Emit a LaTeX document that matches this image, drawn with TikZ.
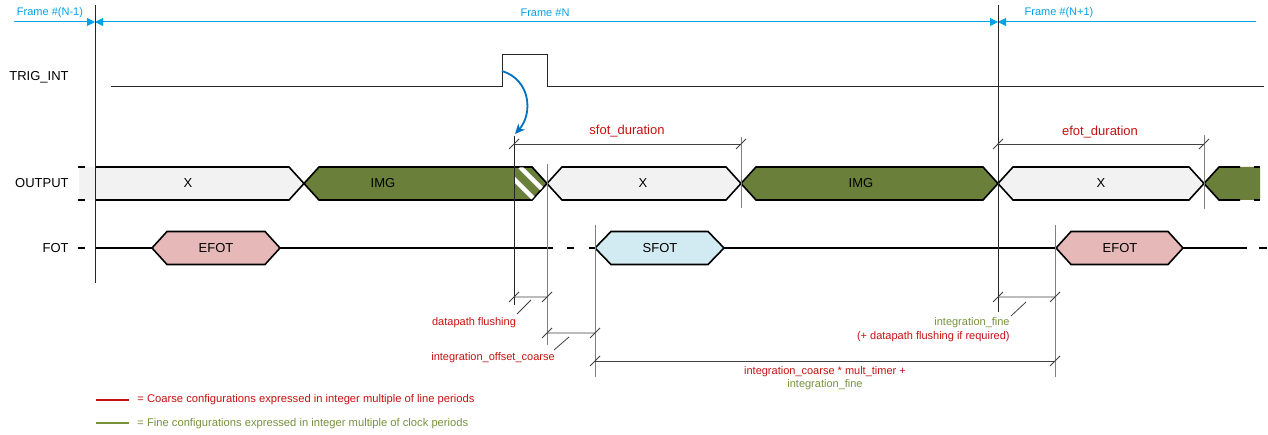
\documentclass[tikz,border=0pt]{standalone}
\usepackage{fontspec}
\setmainfont{Liberation Sans}
\usetikzlibrary{arrows.meta,calc}
\definecolor{framecol}{RGB}{0,162,232}
\definecolor{trigcol}{RGB}{0,112,192}
\definecolor{coarsecol}{RGB}{200,16,16}
\definecolor{finecol}{RGB}{118,146,60}
\definecolor{imgcol}{RGB}{106,128,58}
\definecolor{xcol}{RGB}{242,242,242}
\definecolor{efotcol}{RGB}{230,185,184}
\definecolor{sfotcol}{RGB}{210,234,241}
\tikzset{
  >=Stealth,
  every picture/.append style={line width=0.8pt},
  every node/.append style={font=\fontsize{11}{13}\selectfont, inner sep=0pt},
}
\tikzset{
  siglabel/.style={font=\fontsize{13}{15}\selectfont, anchor=east},
  framearr/.style={draw=framecol, line width=1pt, -{Triangle[length=8pt,width=8pt]}},
  bus/.style={draw=black, line width=1.6pt, line join=miter},
  marker/.style={draw=black!85, line width=1pt},
  softmarker/.style={draw=black!50, line width=1pt},
  dimline/.style={draw=black!75, line width=0.8pt},
  dimtick/.pic={\draw[dimline] (-5,5) -- (5,-5);}
}

\begin{document}
\begin{tikzpicture}[x=1pt, y=-1pt,
  coarse/.style={text=coarsecol},
  fine/.style={text=finecol},
  buslabel/.style={font=\fontsize{13}{15}\selectfont},
  legtext/.style={anchor=west, font=\fontsize{11.2}{13}\selectfont}
]
\useasboundingbox (0,0) rectangle (1268,435);

% Frame arrows
\coordinate (fl) at (14,22);
\coordinate (fb1) at (95,22);
\coordinate (fb2) at (998,22);
\coordinate (fr) at (1256,22);
\draw[framearr] (fl) -- (fb1);
\draw[framearr, {Triangle[length=8pt,width=8pt]}-{Triangle[length=8pt,width=8pt]}] (fb1) -- (fb2);
\draw[framearr, {Triangle[length=8pt,width=8pt]}-] (fb2) -- (fr);
\node[text=framecol] (fprev) at (50,13) {Frame \#(N-1)};
\node[text=framecol] (fcur) at (545,13) {Frame \#N};
\node[text=framecol] (fnext) at (1059,13) {Frame \#(N+1)};

% Signal names
\node[siglabel] (lbltrig) at (69,77) {TRIG\_INT};
\node[siglabel] (lblout) at (69,183.5) {OUTPUT};
\node[siglabel] (lblfot) at (69,248) {FOT};

% TRIG_INT
\draw[black!85, line width=1pt] (111,87) -- (502,87) -- (502,55) -- (547,55) -- (547,87) -- (1264,87);

% OUTPUT bus
\fill[xcol] (79,167) -- (289,167) -- (304,183.5) -- (289,200) -- (79,200) -- cycle;
\draw[bus] (95,167) -- (289,167) -- (304,183.5) -- (289,200) -- (95,200);
\draw[bus] (78,167) -- (85,167) (78,200) -- (85,200);
\filldraw[bus, fill=imgcol] (304,183.5) -- (319,167) -- (532,167) -- (547,183.5) -- (532,200) -- (319,200) -- cycle;
\begin{scope}
  \clip (514,167) -- (532,167) -- (547,183.5) -- (532,200) -- (514,200) -- cycle;
  \draw[white, line width=4.5pt] (502,167) -- +(40,40) (520,167) -- +(40,40);
\end{scope}
\draw[black, line width=1pt] (514,167) -- (532,167) -- (547,183.5) -- (532,200) -- (514,200);
\filldraw[bus, fill=xcol] (547,183.5) -- (562,167) -- (726,167) -- (741,183.5) -- (726,200) -- (562,200) -- cycle;
\filldraw[bus, fill=imgcol] (741,183.5) -- (756,167) -- (983,167) -- (998,183.5) -- (983,200) -- (756,200) -- cycle;
\filldraw[bus, fill=xcol] (998,183.5) -- (1013,167) -- (1189,167) -- (1204,183.5) -- (1189,200) -- (1013,200) -- cycle;
\fill[imgcol] (1204,183.5) -- (1219,167) -- (1260,167) -- (1260,200) -- (1219,200) -- cycle;
\draw[bus] (1240,167) -- (1219,167) -- (1204,183.5) -- (1219,200) -- (1240,200);
\draw[bus] (1254,167) -- (1260,167) (1254,200) -- (1260,200);
\node[buslabel] (x1) at (188,183.5) {X};
\node[buslabel] (img1) at (383,183.5) {IMG};
\node[buslabel] (x2) at (643,183.5) {X};
\node[buslabel] (img2) at (861,183.5) {IMG};
\node[buslabel] (x3) at (1101,183.5) {X};

% FOT
\draw[bus] (78,248) -- (85,248);
\draw[bus] (95,248) -- (152,248) (280,248) -- (553,248);
\draw[bus] (567,248) -- (574,248) (589,248) -- (595,248);
\draw[bus] (724,248) -- (1056,248) (1183,248) -- (1247,248);
\draw[bus] (1259,248) -- (1267,248);
\filldraw[bus, fill=efotcol] (152,248) -- (167,231.5) -- (265,231.5) -- (280,248) -- (265,264.5) -- (167,264.5) -- cycle;
\filldraw[bus, fill=sfotcol] (595,248) -- (611,231.5) -- (708,231.5) -- (724,248) -- (708,264.5) -- (611,264.5) -- cycle;
\filldraw[bus, fill=efotcol] (1056,248) -- (1071,231.5) -- (1168,231.5) -- (1183,248) -- (1168,264.5) -- (1071,264.5) -- cycle;
\node[buslabel] (efot1) at (216,248) {EFOT};
\node[buslabel] (sfot) at (660,248) {SFOT};
\node[buslabel] (efot2) at (1120,248) {EFOT};

% Time markers
\draw[marker] (95,5) -- (95,283);
\draw[marker] (514,136) -- (514,305);
\draw[softmarker] (547,164) -- (547,345);
\draw[softmarker] (595,225) -- (595,377);
\draw[softmarker] (741,137) -- (741,208);
\draw[marker] (998,5) -- (998,312);
\draw[softmarker] (1055,225) -- (1055,377);
\draw[softmarker] (1204,135) -- (1204,209);

% Trigger to flush start
\coordinate (trigrise) at (502,71);
\coordinate (flushstart) at (515,134);
\draw[trigcol, line width=1.8pt, -{Stealth[length=10pt,width=9pt]}] (trigrise) .. controls (531,80) and (533,114) .. (flushstart);

% Durations
\draw[dimline] (514,144) -- (741,144);
\pic at (514,144) {dimtick};
\pic at (741,144) {dimtick};
\node[coarse, font=\fontsize{13}{15}\selectfont] (sfotdur) at (627,131) {sfot\_duration};
\draw[dimline] (998,144) -- (1204,144);
\pic at (998,144) {dimtick};
\pic at (1204,144) {dimtick};
\node[coarse, font=\fontsize{13}{15}\selectfont] (efotdur) at (1100,132) {efot\_duration};

% Integration timings
\draw[dimline] (514,297) -- (547,297) (517,314) -- (531,300);
\pic at (514,297) {dimtick};
\pic at (547,297) {dimtick};
\node[coarse] (flush) at (474,323) {datapath flushing};
\draw[dimline] (547,333) -- (595,333) (554,350) -- (569,337);
\pic at (547,333) {dimtick};
\pic at (595,333) {dimtick};
\node[coarse] (offcoarse) at (493,358) {integration\_offset\_coarse};
\draw[dimline] (998,297) -- (1055,297) (1011,316) -- (1026,302);
\pic at (998,297) {dimtick};
\pic at (1055,297) {dimtick};
\node[fine, anchor=east] (intfine) at (1010,323) {integration\_fine};
\node[coarse, anchor=east] (intfineflush) at (1010,337) {(+ datapath flushing if required)};
\draw[dimline] (595,361) -- (1055,361);
\pic at (595,361) {dimtick};
\pic at (1055,361) {dimtick};
\node[coarse] (intcoarse) at (825,372) {integration\_coarse * mult\_timer +};
\node[fine] (intcoarsefine) at (825,385) {integration\_fine};

% Legend
\draw[coarsecol, line width=1.6pt] (96,400) -- (129,400);
\node[coarse, legtext] (legcoarse) at (137,400) {= Coarse configurations expressed in integer multiple of line periods};
\draw[finecol, line width=1.6pt] (96,423) -- (129,423);
\node[fine, legtext] (legfine) at (137,424) {= Fine configurations expressed in integer multiple of clock periods};
\end{tikzpicture}
\end{document}
